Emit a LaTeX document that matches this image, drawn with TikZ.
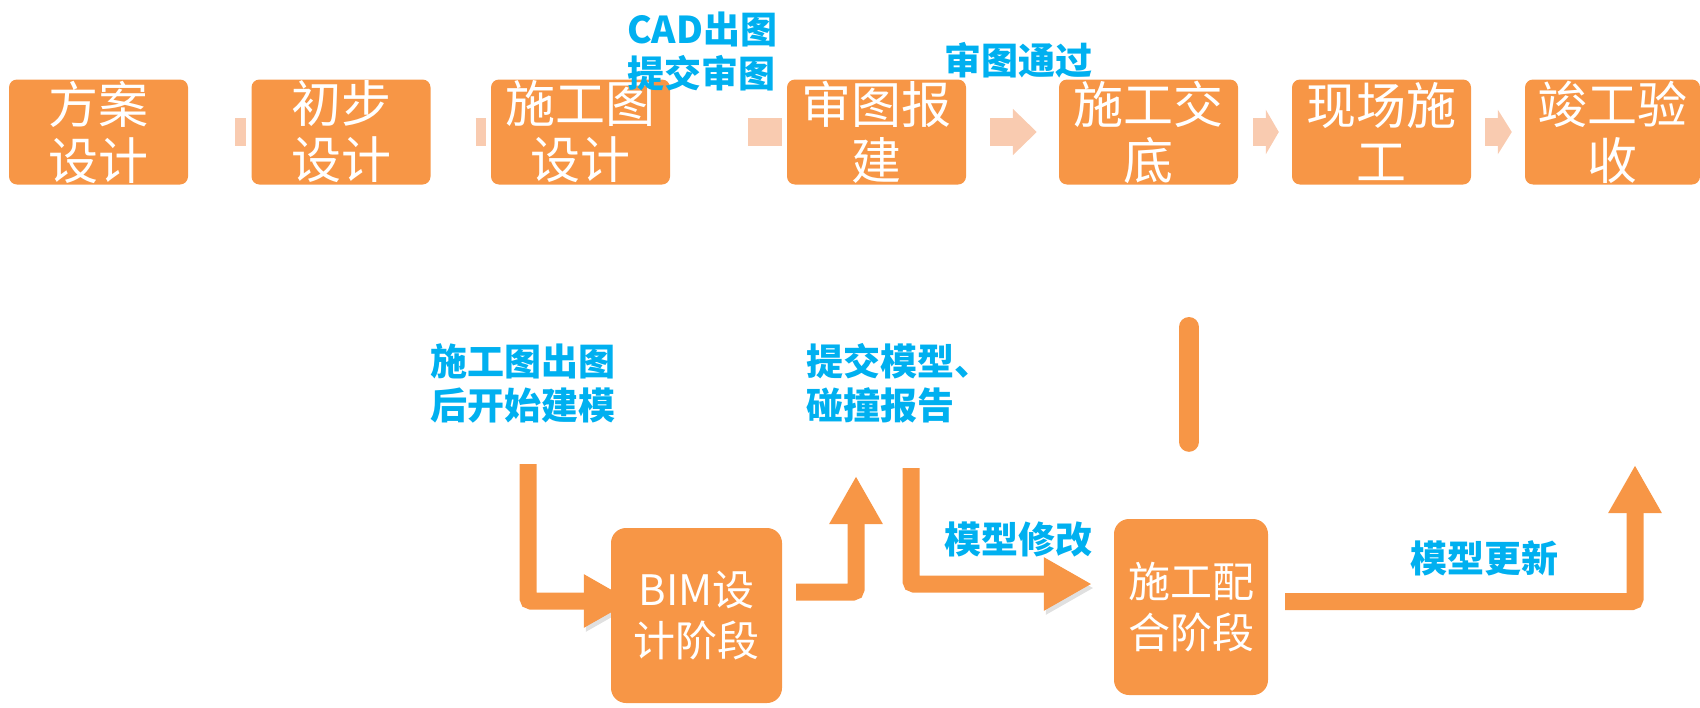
\documentclass[tikz,border=0pt]{standalone}
\usepackage{fontspec}
\newfontfamily\cjk{Noto Sans CJK SC}
\usetikzlibrary{arrows.meta,calc,backgrounds}
\definecolor{orng}{HTML}{F79646}
\definecolor{peach}{HTML}{F9CBB0}
\definecolor{cyanblue}{HTML}{00B0F0}
\tikzset{
  topbox/.style={fill=orng, rounded corners=8pt, minimum width=179pt, minimum height=105pt,
    inner sep=0pt, text=white, align=center, font=\cjk\fontsize{50}{56}\selectfont},
  botbox/.style={fill=orng, rounded corners=15pt, inner sep=0pt, text=white, align=center,
    font=\cjk\fontsize{42}{51}\selectfont},
  lbl/.style={text=cyanblue, font=\cjk\bfseries\fontsize{37}{44}\selectfont, align=left,
    inner sep=0pt, anchor=west},
  peachbar/.style={draw=peach, line width=28pt},
  oarrow/.style={draw=orng, line width=17pt, rounded corners=3pt, -{Triangle[length=48pt,width=50pt]}},
  obar/.style={draw=orng, line width=20pt, line cap=round},
  shadowed/.style={preaction={draw=black, opacity=0.12, transform canvas={shift={(2pt,-4pt)}}}}
}
\begin{document}
\begin{tikzpicture}[x=1pt,y=-1pt]
\useasboundingbox (0,0) rectangle (1700,707);
% top row
\node[topbox] (b1) at (98.5,132) {方案\\设计};
\node[topbox] (b2) at (341,132) {初步\\设计};
\node[topbox] (b3) at (580.5,132) {施工图\\设计};
\node[topbox] (b4) at (876.5,132) {审图报\\建};
\node[topbox] (b5) at (1148.5,132) {施工交\\底};
\node[topbox] (b6) at (1381.5,132) {现场施\\工};
\node[topbox, minimum width=175pt] (b7) at (1612.5,132) {竣工验\\收};
\draw[peachbar] ($(b1.east)+(47,0)$) -- ($(b2.west)+(-5,0)$);
\draw[peachbar] ($(b2.east)+(45,0)$) -- ($(b3.west)+(-5,0)$);
\draw[peachbar] ($(b3.east)+(78,0)$) -- ($(b4.west)+(-5,0)$);
\draw[peachbar, -{Triangle[length=24pt,width=45pt]}] ($(b4.east)+(24,0)$) -- ($(b5.west)+(-22,0)$);
\draw[peachbar, -{Triangle[length=13pt,width=44pt]}] ($(b5.east)+(15,0)$) -- ($(b6.west)+(-13,0)$);
\draw[peachbar, -{Triangle[length=14pt,width=44pt]}] ($(b6.east)+(14,0)$) -- ($(b7.west)+(-13,0)$);
% labels
\node[lbl] (lcad) at (627,51.5) {CAD出图\\提交审图};
\node[lbl] (lpass) at (944,60) {审图通过};
\node[lbl] (lstart) at (430,383) {施工图出图\\后开始建模};
\node[lbl] (lsub) at (806,383) {提交模型、\\碰撞报告};
\node[lbl] (lmod) at (944,539.5) {模型修改};
\node[lbl] (lupd) at (1410,558) {模型更新};
% bottom boxes
\node[botbox, minimum width=171pt, minimum height=175pt] (bim) at (696.5,615.5) {BIM设\\计阶段};
\node[botbox, minimum width=154pt, minimum height=176pt] (coop) at (1191,607) {施工配\\合阶段};
\coordinate (s1) at (528,464);
\coordinate (t2) at (856,476);
\coordinate (s3) at (911,468);
\coordinate (t4) at (1189,327);
\coordinate (t5) at (1635,465);
\begin{scope}[on background layer]
\draw[oarrow, shadowed] (s1) |- ($(bim.west)+(21,-14.5)$);
\end{scope}
\draw[oarrow] ($(bim.east)+(14,-23.5)$) -| (t2);
\draw[oarrow, shadowed] (s3) |- ($(coop.west)+(-22,-23)$);
\draw[obar, shadowed] ($(coop.north)+(-2,-77)$) -- (t4);
\draw[oarrow] ($(coop.east)+(17,-5.5)$) -| (t5);
\end{tikzpicture}
\end{document}
